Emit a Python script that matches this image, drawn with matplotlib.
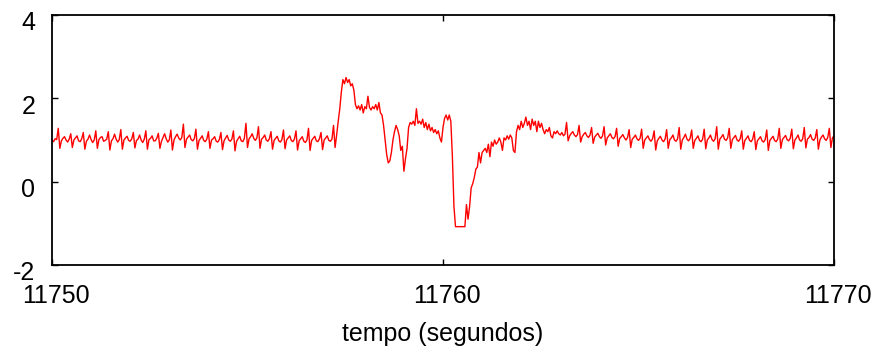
import numpy as np
import matplotlib
matplotlib.use("Agg")
import matplotlib.pyplot as plt
import matplotlib.transforms as mtransforms

# sample spacing (seconds) and start time of the record
t_start = 11750.0
dt = 0.04

# baseline before the event (11750.00 .. 11757.28 s)
baseline_before = [
    1.00, 0.96, 1.03, 1.01,
    1.28, 0.80, 0.98, 1.04, 1.08, 1.00, 0.95, 1.02,
    1.15, 0.82, 1.00, 1.05, 1.10, 0.98, 0.96, 1.03,
    1.18, 0.78, 0.97, 1.02, 1.12, 1.01, 0.94, 1.00,
    1.22, 0.80, 1.01, 1.06, 1.08, 0.97, 0.99, 1.02,
    1.20, 0.76, 0.98, 1.03, 1.14, 1.02, 0.95, 1.01,
    1.25, 0.78, 1.00, 1.05, 1.09, 0.99, 0.97, 1.03,
    1.18, 0.81, 0.99, 1.02, 1.12, 1.00, 0.94, 1.02,
    1.22, 0.78, 1.01, 1.04, 1.10, 0.98, 0.98, 1.04,
    1.16, 0.80, 0.97, 1.06, 1.15, 1.03, 0.95, 1.00,
    1.24, 0.76, 1.00, 1.08, 1.14, 1.05, 1.00, 1.06,
    1.38, 0.82, 1.02, 1.07, 1.12, 1.01, 0.98, 1.03,
    1.26, 0.78, 0.99, 1.04, 1.10, 0.99, 0.96, 1.02,
    1.20, 0.80, 1.00, 1.03, 1.08, 0.97, 0.95, 1.01,
    1.18, 0.77, 0.98, 1.05, 1.11, 1.00, 0.97, 1.02,
    1.22, 0.74, 0.97, 1.03, 1.09, 0.98, 0.96, 1.04,
    1.40, 0.82, 1.03, 1.08, 1.15, 1.04, 0.99, 1.05,
    1.32, 0.80, 1.02, 1.06, 1.12, 1.00, 0.97, 1.03,
    1.20, 0.78, 0.99, 1.04, 1.09, 0.98, 0.95, 1.01,
    1.24, 0.79, 1.00, 1.05, 1.10, 0.99, 0.96, 1.02,
    1.22, 0.76, 0.98, 1.03, 1.08, 0.97, 0.94, 1.00,
    1.28, 0.75, 0.99, 1.04, 1.09, 0.98, 0.96, 1.03,
    1.18, 0.77, 1.00, 1.05, 1.10, 0.99, 0.97, 1.02,
    1.35, 0.82, 1.12,
]

# the event (11757.32 .. 11762.96 s)
event = [
    1.45, 1.75, 2.15, 2.45, 2.35, 2.50, 2.38, 2.45, 2.30, 2.35,
    2.20, 1.85, 1.75, 1.82, 1.72, 1.85, 1.65, 1.80, 1.75, 2.05,
    1.78, 1.72, 1.80, 1.75, 1.85, 1.72, 1.90, 1.65, 1.60, 1.35,
    1.00, 0.65, 0.45, 0.50, 0.70, 1.00, 1.20, 1.35, 1.25, 1.10,
    0.75, 0.85, 0.25, 0.55, 0.80, 1.30, 1.42, 1.38, 1.45, 1.35,
    1.75, 1.40, 1.45, 1.38, 1.50, 1.30, 1.42, 1.25, 1.38, 1.22,
    1.30, 1.18, 1.25, 1.15, 1.22, 1.05, 0.95, 1.30, 1.52, 1.60,
    1.48, 1.60, 1.45, 0.60, -0.60, -1.08, -1.08, -1.08, -1.08, -1.08,
    -1.08, -1.08, -0.55, -0.90, -0.60, -0.15, -0.05, 0.10, 0.30, 0.35,
    0.70, 0.45, 0.70, 0.75, 0.80, 0.70, 0.90, 0.60, 0.95, 0.85,
    1.00, 0.90, 0.95, 1.05, 0.95, 0.75, 1.05, 1.00, 1.10, 1.02,
    1.12, 1.05, 0.75, 0.70, 1.20, 1.35, 1.25, 1.45, 1.30, 1.40,
    1.55, 1.35, 1.45, 1.25, 1.50, 1.35, 1.45, 1.20, 1.45, 1.30,
    1.40, 1.25, 1.15, 1.25, 1.20, 1.30, 1.10, 1.05, 1.20, 1.15,
    1.22, 1.15,
]

# baseline after the event (11763.00 .. 11770.00 s)
baseline_after = [
    1.12, 1.18, 1.10, 1.14,
    1.42, 0.98, 1.10, 1.16, 1.20, 1.12, 1.08, 1.13,
    1.35, 0.95, 1.08, 1.14, 1.18, 1.10, 1.06, 1.12,
    1.30, 0.92, 1.07, 1.12, 1.16, 1.08, 1.04, 1.10,
    1.32, 0.88, 1.05, 1.10, 1.15, 1.06, 1.03, 1.08,
    1.28, 0.85, 1.04, 1.08, 1.13, 1.05, 1.00, 1.06,
    1.25, 0.82, 1.02, 1.06, 1.12, 1.03, 0.99, 1.04,
    1.26, 0.80, 1.00, 1.05, 1.10, 1.01, 0.97, 1.03,
    1.22, 0.76, 0.98, 1.04, 1.09, 1.00, 0.96, 1.02,
    1.25, 0.80, 1.01, 1.05, 1.12, 1.00, 0.97, 1.03,
    1.30, 0.78, 1.00, 1.06, 1.14, 1.02, 0.98, 1.04,
    1.24, 0.80, 0.99, 1.04, 1.10, 0.99, 0.96, 1.02,
    1.26, 0.79, 1.00, 1.05, 1.12, 1.01, 0.97, 1.03,
    1.32, 0.78, 1.02, 1.07, 1.13, 1.02, 0.99, 1.05,
    1.28, 0.80, 1.01, 1.06, 1.11, 1.00, 0.97, 1.03,
    1.22, 0.78, 0.99, 1.04, 1.10, 0.99, 0.96, 1.02,
    1.20, 0.77, 0.98, 1.03, 1.08, 0.98, 0.95, 1.01,
    1.24, 0.75, 0.99, 1.04, 1.09, 0.99, 0.96, 1.02,
    1.28, 0.80, 1.01, 1.06, 1.11, 1.01, 0.98, 1.04,
    1.26, 0.79, 1.00, 1.05, 1.12, 1.00, 0.97, 1.03,
    1.30, 0.81, 1.02, 1.06, 1.13, 1.02, 0.99, 1.05,
    1.25, 0.78, 1.00, 1.07, 1.12, 1.03, 0.99, 1.06,
    1.28, 0.82, 1.05, 1.10,
]

x_ticks = [11750, 11760, 11770]
y_ticks = [-2, 0, 2, 4]
x_label = "tempo (segundos)"

values = np.array(baseline_before + event + baseline_after)
t = t_start + dt * np.arange(len(values))

plt.rcParams['font.family'] = ['Liberation Sans', 'DejaVu Sans']

fig = plt.figure(figsize=(8.77, 3.51), dpi=100)
fig.patch.set_facecolor('white')
ax = fig.add_axes([52 / 877, 1 - 265 / 351, (834 - 52) / 877, (265 - 15) / 351])

ax.plot(t, values, color='#ff0000', lw=1.0)

ax.set_xlim(11750, 11770)
ax.set_ylim(-2, 4)
ax.set_xticks(x_ticks)
ax.set_yticks(y_ticks)
ax.set_xticklabels([str(v) for v in x_ticks], fontsize=18)
ax.set_yticklabels([str(v) for v in y_ticks], fontsize=18)
ax.tick_params(direction='in', length=4.5, width=1.0, top=True, right=True,
               colors='black')
ax.tick_params(axis='y', pad=12)
ax.tick_params(axis='x', pad=14)
for s in ax.spines.values():
    s.set_linewidth(1.3)
    s.set_color('black')

ax.set_xlabel(x_label, fontsize=18, labelpad=10)

# shift y labels slightly down and x labels slightly right, as in the original
off_y = mtransforms.ScaledTranslation(0, -6 / 100, fig.dpi_scale_trans)
for lab in ax.get_yticklabels():
    lab.set_transform(lab.get_transform() + off_y)
off_x = mtransforms.ScaledTranslation(4 / 100, 0, fig.dpi_scale_trans)
for lab in ax.get_xticklabels():
    lab.set_transform(lab.get_transform() + off_x)

fig.savefig('out.png', dpi=100)
